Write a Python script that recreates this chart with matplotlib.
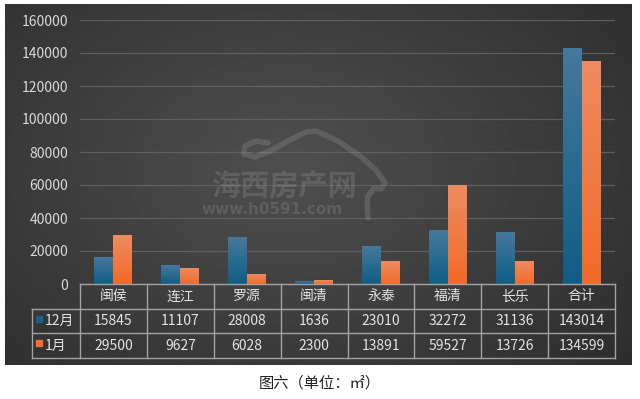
import matplotlib
matplotlib.use("Agg")
import matplotlib.pyplot as plt
import numpy as np
from matplotlib.colors import LinearSegmentedColormap
from matplotlib.lines import Line2D

plt.rcParams["font.family"] = ["Noto Sans CJK SC", "DejaVu Sans"]

# data
districts = ["闽侯", "连江", "罗源", "闽清", "永泰", "福清", "长乐", "合计"]
dec_area = [15845, 11107, 28008, 1636, 23010, 32272, 31136, 143014]
jan_area = [29500, 9627, 6028, 2300, 13891, 59527, 13726, 134599]
series_names = ["12月", "1月"]
y_ticks = [0, 20000, 40000, 60000, 80000, 100000, 120000, 140000, 160000]

W, H = 640, 399
fig = plt.figure(figsize=(W / 100, H / 100), dpi=100)
fig.patch.set_facecolor("white")


def px_axes(x0, y0, x1, y1):
    """axes from a pixel box, origin top-left"""
    return fig.add_axes([x0 / W, 1 - y1 / H, (x1 - x0) / W, (y1 - y0) / H])


# dark radial background
bg = px_axes(5, 4, 632, 365)
yy, xx = np.mgrid[0:1:200j, 0:1:300j]
r = np.sqrt(((xx - 0.45) / 0.75) ** 2 + ((yy - 0.45) / 0.9) ** 2)
shade = np.clip(0.17 + 0.14 * (1 - r), 0.15, 0.33)
bg.imshow(shade, cmap="gray", vmin=0, vmax=1, aspect="auto",
          extent=[0, 1, 0, 1], origin="upper", interpolation="bilinear")
bg.set_axis_off()

# watermark (site logo, rough)
logo_px = [(268, 143), (256, 141), (245, 146), (244, 154), (255, 157), (270, 151),
           (290, 140), (306, 132), (316, 131), (338, 141), (360, 156), (376, 170),
           (385, 183), (381, 189), (374, 188), (368, 196), (367, 206), (368, 218)]
fig.add_artist(Line2D([p[0] / W for p in logo_px], [1 - p[1] / H for p in logo_px],
                      transform=fig.transFigure, color="white", alpha=0.12, lw=4,
                      solid_capstyle="round", solid_joinstyle="round"))
fig.text(285 / W, 1 - 186 / H, "海西房产网", fontsize=21, fontweight="bold",
         color="white", alpha=0.12, ha="center", va="center")
fig.text(272 / W, 1 - 210 / H, "www.h0591.com", fontsize=11, fontweight="bold",
         color="white", alpha=0.12, ha="center", va="center", family="DejaVu Sans")

# main chart
ax = px_axes(80, 20, 615, 284)
ax.set_facecolor("none")
n = len(districts)
x = np.arange(n)
bw = 0.284

blue_cmap = LinearSegmentedColormap.from_list("b", ["#0f5e86", "#46789b"])
orange_cmap = LinearSegmentedColormap.from_list("o", ["#f36a28", "#ee8b60"])
grad = np.linspace(1, 0, 100).reshape(-1, 1)

for vals, off, cmap in [(dec_area, -bw / 2, blue_cmap), (jan_area, bw / 2, orange_cmap)]:
    bars = ax.bar(x + off, vals, bw, color="none", edgecolor="none", zorder=2)
    for b in bars:
        x0, w, h = b.get_x(), b.get_width(), b.get_height()
        ax.imshow(grad, cmap=cmap, vmin=0, vmax=1, aspect="auto",
                  extent=[x0, x0 + w, 0, h], zorder=2, interpolation="bilinear")

ax.set_xlim(-0.5, n - 0.5)
ax.set_ylim(0, 160000)
ax.set_yticks(y_ticks)
ax.set_yticklabels([str(t) for t in y_ticks], fontsize=10, color="#d9d9d9")
ax.set_xticks([])
ax.tick_params(axis="y", length=0, pad=8.5)
ax.yaxis.grid(True, color="#5f5f5f", linewidth=0.9, zorder=0)
ax.set_axisbelow(True)
for s in ax.spines.values():
    s.set_visible(False)

# data table under the axis
cat_w = (615 - 80) / n
x_left = -0.5 - (80 - 32) / cat_w
tab = px_axes(32, 284, 615, 358)
tab.set_xlim(x_left, n - 0.5)
tab.set_ylim(3, 0)
tab.set_axis_off()
line_c = "#a3a3a3"
tab.plot([-0.5, n - 0.5], [0, 0], color=line_c, lw=1, clip_on=False)
for yr in (1, 2, 3):
    tab.plot([x_left, n - 0.5], [yr, yr], color=line_c, lw=1, clip_on=False)
for i in range(n + 1):
    tab.plot([i - 0.5, i - 0.5], [0, 3], color=line_c, lw=1, clip_on=False)
tab.plot([x_left, x_left], [1, 3], color=line_c, lw=1, clip_on=False)

txt_c = "#e3e3e3"
for i, name in enumerate(districts):
    tab.text(i, 0.5, name, ha="center", va="center", fontsize=10, color=txt_c)
    tab.text(i, 1.5, str(dec_area[i]), ha="center", va="center", fontsize=10, color=txt_c)
    tab.text(i, 2.5, str(jan_area[i]), ha="center", va="center", fontsize=10, color=txt_c)

for row, (label, col) in enumerate(zip(series_names, ["#17618a", "#f26f2f"])):
    tab.plot([x_left + 0.1], [row + 1.4], marker="s", markersize=4.5, color=col,
             linestyle="none", clip_on=False)
    tab.text(x_left + 0.19, row + 1.5, label, ha="left", va="center", fontsize=10, color=txt_c)

# caption
fig.text(0.5, 1 - 383 / H, "图六（单位：㎡）", ha="center", va="center",
         fontsize=11, color="#222222")

fig.savefig("out.png", dpi=100)
